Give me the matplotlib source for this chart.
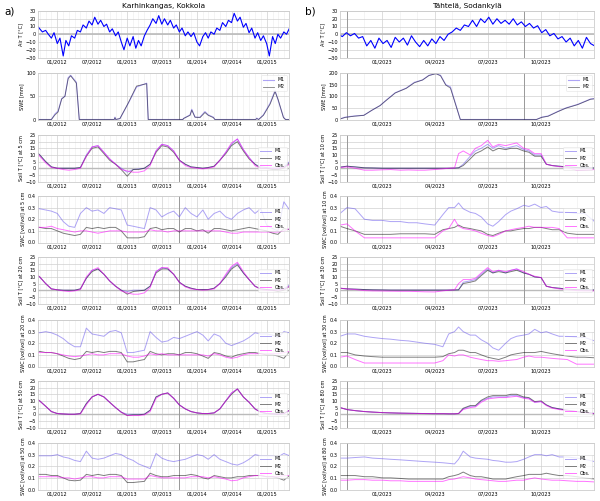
import numpy as np
import pandas as pd
import matplotlib
matplotlib.use("Agg")
import matplotlib.pyplot as plt
import matplotlib.dates as mdates

# ---------------- a) Karhinkangas, Kokkola ----------------
# air temperature, semi-monthly readings
air_a_dates = pd.date_range("2011-09-15", "2015-05-01", freq="SMS")
air_a = [12, 7, 3, 5, 0, -5, 2, -12, -5, -28, -8, -15, -2, -5, 5, 3, 12, 8, 17, 12, 22, 13,
         18, 10, 13, 3, 7, -2, 3, -10, -20, -5, -15, -3, -18, -8, -15, -2, 5, 12, 20, 14,
         24, 13, 20, 12, 18, 8, 12, 3, 8, -2, 3, -3, 2, -10, -15, -3, 2, -5, 3, 0, 8, 5,
         15, 10, 18, 15, 27, 17, 22, 9, 14, 2, 8, -5, 2, -8, -2, -12, -28, -3, -12, 0, -5,
         3, 0, 8]

swe_a_dates = pd.to_datetime([
    "2011-09-15", "2011-12-01", "2011-12-20", "2012-01-05", "2012-01-24", "2012-02-10",
    "2012-02-27", "2012-03-11", "2012-04-10", "2012-04-25", "2012-10-25", "2012-10-29",
    "2012-11-02", "2012-11-24", "2013-01-07", "2013-02-19", "2013-04-13", "2013-04-21",
    "2013-10-20", "2013-10-22", "2013-11-26", "2013-12-05", "2013-12-22", "2014-01-17",
    "2014-02-12", "2014-03-01", "2014-03-28", "2014-04-05", "2014-11-05", "2014-11-10",
    "2014-11-20", "2014-12-15", "2015-01-19", "2015-02-14", "2015-03-03", "2015-03-30",
    "2015-04-10", "2015-05-01"])
swe_a_m1 = [0, 0, 12, 18, 45, 50, 90, 95, 80, 0, 0, 5, 0, 2, 35, 70, 78, 0, 0, 2, 10, 22,
            5, 5, 17, 10, 5, 0, 0, 3, 0, 10, 35, 62, 40, 5, 0, 0]
swe_a_m2 = [0, 0, 10, 16, 44, 50, 88, 94, 78, 0, 0, 4, 0, 2, 36, 72, 77, 0, 0, 2, 9, 20,
            5, 4, 15, 9, 4, 0, 0, 2, 0, 9, 33, 60, 42, 4, 0, 0]

# soil data, first-of-month readings
soil_a_dates = pd.date_range("2011-09-01", "2015-05-01", freq="MS")
t5_a_m1 = [14, 10, 5, 1, 0, 0, 0, 0, 0.5, 10, 16, 17, 12, 7, 3, 0, -3, -1, -0.5, 0, 3, 13,
           18, 17, 13, 6, 3, 1, 0.5, 0, 0.5, 1.5, 6, 12, 18, 22, 14, 8, 3, 1, 0.5, 0, 0, 1, 5]
t5_a_m2 = [14, 10, 5, 1, 0, 0, 0, 0, 0.5, 9, 15, 16, 11, 6, 3, -1, -6, -1, -1, 0, 3, 12,
           17, 16, 12, 6, 3, 1, 0.5, 0, 0.5, 1.5, 6, 11, 17, 20, 13, 7, 3, 0, 0, -1, -1, 0, 4]
t5_a_obs = [14, 9, 4, 0.5, 0, -1, -1.5, -1, 0, 9, 16, 17, 12, 7, 3, -1, -2, -3, -3, -2, 2,
            13, 18, 17, 13, 6, 2, 0.5, 0, -0.5, 0, 1, 6, 12, 19, 22, 14, 8, 2, 0, 0, 0, 0,
            0.5, 3]
swc5_a_m1 = [0.30, 0.29, 0.28, 0.27, 0.25, 0.18, 0.14, 0.13, 0.25, 0.30, 0.27, 0.28, 0.25,
             0.30, 0.29, 0.28, 0.15, 0.14, 0.13, 0.12, 0.30, 0.28, 0.22, 0.25, 0.27, 0.22,
             0.30, 0.25, 0.22, 0.28, 0.20, 0.25, 0.27, 0.22, 0.20, 0.25, 0.28, 0.30, 0.25,
             0.29, 0.15, 0.12, 0.10, 0.35, 0.28]
swc5_a_m2 = [0.13, 0.13, 0.12, 0.12, 0.10, 0.08, 0.07, 0.06, 0.07, 0.13, 0.12, 0.13, 0.12,
             0.13, 0.13, 0.10, 0.04, 0.04, 0.04, 0.05, 0.12, 0.13, 0.11, 0.12, 0.12, 0.09,
             0.12, 0.12, 0.10, 0.11, 0.08, 0.12, 0.12, 0.11, 0.10, 0.11, 0.12, 0.13, 0.12,
             0.11, 0.10, 0.08, 0.07, 0.12, 0.11]
swc5_a_obs = [0.14, 0.13, 0.13, 0.14, 0.12, 0.11, 0.10, 0.09, 0.10, 0.10, 0.09, 0.08, 0.09,
              0.10, 0.10, 0.10, 0.09, 0.09, 0.09, 0.09, 0.11, 0.10, 0.10, 0.09, 0.10, 0.10,
              0.10, 0.10, 0.10, 0.10, 0.10, 0.10, 0.10, 0.09, 0.08, 0.08, 0.09, 0.09, 0.09,
              0.09, 0.09, 0.09, 0.09, 0.10, 0.12]
t20_a_m1 = [13, 10, 5, 1, 0.3, 0, 0, 0, 1, 9, 15, 16, 12, 7, 3, 0, -1, 0, 0, 0, 3, 14, 17,
            16, 12, 6, 3, 1.5, 0.5, 0.5, 0.5, 1.5, 5, 11, 17, 20, 13, 8, 3, 1, 0.5, 0.3,
            0.3, 1, 4]
t20_a_m2 = [13, 10, 5, 1, 0.3, 0, 0, 0, 1, 9, 14, 16, 12, 7, 3, 0, -3, -1, -0.5, 0, 3, 13,
            16, 16, 12, 6, 3, 1.5, 0.5, 0.5, 0.5, 1.5, 5, 10, 16, 19, 13, 8, 3, 1, 0.5, 0,
            -1, 0, 3]
t20_a_obs = [13, 10, 5, 1, 0.3, -0.5, -1, -0.5, 0.5, 10, 15, 17, 12, 7, 3, -0.5, -2, -3,
             -3, -2, 2, 14, 17, 17, 12, 6, 2.5, 1, 0.5, 0, 0.3, 1, 5, 12, 18, 21, 14, 8, 3,
             0.5, 0, 0, 0, 0.5, 3]
swc20_a_m1 = [0.30, 0.29, 0.30, 0.29, 0.27, 0.24, 0.20, 0.17, 0.17, 0.33, 0.28, 0.27, 0.26,
              0.30, 0.31, 0.29, 0.12, 0.12, 0.13, 0.14, 0.30, 0.25, 0.21, 0.22, 0.25, 0.24,
              0.26, 0.28, 0.30, 0.27, 0.22, 0.28, 0.26, 0.20, 0.18, 0.20, 0.22, 0.25, 0.29,
              0.28, 0.28, 0.27, 0.25, 0.30, 0.29]
swc20_a_m2 = [0.12, 0.13, 0.12, 0.12, 0.11, 0.09, 0.07, 0.06, 0.07, 0.13, 0.12, 0.13, 0.12,
              0.13, 0.13, 0.12, 0.04, 0.04, 0.05, 0.06, 0.13, 0.11, 0.10, 0.11, 0.11, 0.10,
              0.12, 0.12, 0.11, 0.09, 0.07, 0.12, 0.11, 0.09, 0.08, 0.10, 0.11, 0.12, 0.12,
              0.11, 0.10, 0.10, 0.09, 0.07, 0.13]
swc20_a_obs = [0.12, 0.12, 0.12, 0.12, 0.11, 0.10, 0.09, 0.085, 0.09, 0.10, 0.11, 0.10,
               0.10, 0.11, 0.11, 0.11, 0.09, 0.08, 0.08, 0.09, 0.11, 0.10, 0.11, 0.10, 0.10,
               0.10, 0.10, 0.10, 0.10, 0.10, 0.09, 0.11, 0.10, 0.08, 0.07, 0.08, 0.10, 0.11,
               0.11, 0.11, 0.11, 0.11, 0.11, 0.12, 0.13]
t50_a_m1 = [13, 10, 6, 2, 0.5, 0.2, 0, 0, 0.5, 8, 13, 15, 13, 9, 5, 1.5, 0, 0, 0, 0, 3, 13,
            15, 16, 12, 7, 4, 2, 1, 0.5, 0.5, 1, 4, 10, 16, 19, 13, 9, 4, 1.5, 0.5, 0.3, 0,
            0.5, 3]
t50_a_m2 = [13, 10, 6, 2, 0.5, 0.2, 0, 0, 0.5, 8, 13, 15, 13, 9, 5, 1.5, -1, -0.5, -0.5, 0,
            3, 13, 15, 16, 12, 7, 4, 2, 1, 0.5, 0.5, 1, 4, 10, 15, 19, 13, 9, 4, 1.5, 0.5,
            0.3, 0, 0.5, 3]
t50_a_obs = [13, 10, 6, 2, 0.5, 0.2, 0, 0, 0.3, 7, 13, 15, 13, 9, 5, 1.5, -1, -1, -1, -0.5,
             2, 12, 15, 16, 12, 7, 4, 2, 1, 0.5, 0.5, 1, 4, 10, 16, 19, 13, 9, 4, 1.5, 0.5,
             0.3, 0, 0.5, 3]
swc50_a_m1 = [0.29, 0.29, 0.29, 0.29, 0.30, 0.28, 0.27, 0.25, 0.24, 0.33, 0.27, 0.26, 0.27,
              0.29, 0.31, 0.30, 0.27, 0.25, 0.22, 0.20, 0.18, 0.31, 0.27, 0.25, 0.24, 0.25,
              0.26, 0.28, 0.30, 0.29, 0.26, 0.30, 0.26, 0.24, 0.22, 0.21, 0.23, 0.26, 0.30,
              0.29, 0.29, 0.29, 0.28, 0.31, 0.29]
swc50_a_m2 = [0.13, 0.13, 0.13, 0.12, 0.12, 0.10, 0.08, 0.075, 0.08, 0.13, 0.12, 0.13, 0.12,
              0.13, 0.13, 0.12, 0.06, 0.06, 0.065, 0.07, 0.14, 0.12, 0.11, 0.11, 0.12, 0.12,
              0.12, 0.13, 0.12, 0.10, 0.09, 0.12, 0.11, 0.10, 0.10, 0.11, 0.11, 0.12, 0.12,
              0.12, 0.11, 0.11, 0.10, 0.08, 0.12]
swc50_a_obs = [0.11, 0.11, 0.11, 0.11, 0.11, 0.10, 0.10, 0.09, 0.10, 0.11, 0.11, 0.10, 0.10,
               0.11, 0.11, 0.11, 0.09, 0.09, 0.09, 0.09, 0.12, 0.11, 0.10, 0.10, 0.10, 0.10,
               0.10, 0.11, 0.11, 0.11, 0.10, 0.11, 0.10, 0.09, 0.075, 0.08, 0.10, 0.11, 0.12,
               0.12, 0.11, 0.11, 0.11, 0.12, 0.12]

# ---------------- b) Tähtelä, Sodankylä ----------------
air_b_dates = pd.date_range("2022-10-17", "2024-01-01", freq="7D")
air_b = [0, -3, 2, -2, 1, -5, -3, -15, -8, -18, -5, -12, -8, -17, -4, -10, -5, -14, -2, -10,
         -16, -8, -15, -6, -12, -3, -8, 0, 3, 8, 5, 12, 10, 18, 10, 20, 15, 22, 13, 20, 14,
         18, 13, 20, 12, 16, 10, 14, 8, 11, 2, 6, -2, 1, -6, -3, -10, -5, -15, -8, -18, -4,
         -12, -15]

swe_b_dates = pd.to_datetime([
    "2022-10-17", "2022-10-29", "2022-11-13", "2022-11-30", "2022-12-14", "2022-12-28",
    "2023-01-06", "2023-01-23", "2023-02-11", "2023-02-25", "2023-03-11", "2023-03-22",
    "2023-04-03", "2023-04-11", "2023-04-20", "2023-04-28", "2023-05-15", "2023-09-23",
    "2023-10-02", "2023-10-13", "2023-10-30", "2023-11-13", "2023-12-03", "2023-12-25",
    "2024-01-01"])
swe_b_m1 = [0, 10, 15, 18, 40, 60, 80, 115, 135, 160, 170, 190, 198, 190, 150, 140, 0, 0,
            10, 15, 35, 50, 65, 88, 90]
swe_b_m2 = [0, 9, 14, 18, 40, 60, 79, 114, 134, 158, 170, 189, 197, 188, 148, 135, 0, 0,
            9, 14, 34, 49, 64, 87, 89]

soil_b_dates = pd.to_datetime([
    "2022-10-20", "2022-11-01", "2022-11-15", "2022-12-01", "2022-12-15", "2023-01-01",
    "2023-01-15", "2023-02-01", "2023-02-15", "2023-03-01", "2023-03-15", "2023-04-01",
    "2023-04-15", "2023-04-25", "2023-05-05", "2023-05-12", "2023-05-20", "2023-06-01",
    "2023-06-10", "2023-06-20", "2023-07-01", "2023-07-10", "2023-07-20", "2023-08-01",
    "2023-08-10", "2023-08-20", "2023-09-01", "2023-09-10", "2023-09-20", "2023-10-01",
    "2023-10-10", "2023-10-20", "2023-11-01", "2023-11-15", "2023-12-01", "2023-12-15",
    "2024-01-01"])
t10_b_m1 = [0.8, 1.5, 1, 0.3, 0.2, 0, 0, 0, 0, 0, 0, 0, 0, 0, 0.1, 0.3, 3, 9, 13, 15, 18,
            15, 17, 15, 16, 17, 14, 13, 10, 10, 3, 2, 1.5, 1, 0.5, 0.3, 0.2]
t10_b_m2 = [0.8, 1.5, 1, 0.3, 0.2, 0, 0, 0, 0, 0, 0, 0, 0, 0, 0.1, 0.3, 2, 7, 11, 13, 16,
            13, 15, 14, 15, 15, 13, 12, 9, 9, 3, 2, 1.5, 1, 0.5, 0.3, 0.2]
t10_b_obs = [0.5, 1, 0, -1.5, -1.5, -1.2, -1, -1.5, -1.3, -1.5, -1.5, -1, -0.5, 0, 0.2, 11,
             13, 10, 15, 17, 21, 16, 18, 17, 18, 19, 15, 14, 11, 11, 3, 2, 1.2, 0.5, -1.5,
             -1.3, -1]
swc10_b_m1 = [0.25, 0.30, 0.29, 0.20, 0.19, 0.19, 0.18, 0.18, 0.17, 0.17, 0.16, 0.15, 0.24,
              0.30, 0.30, 0.34, 0.29, 0.26, 0.25, 0.22, 0.16, 0.14, 0.18, 0.24, 0.27, 0.29,
              0.32, 0.31, 0.33, 0.30, 0.31, 0.27, 0.26, 0.26, 0.25, 0.25, 0.18]
swc10_b_m2 = [0.14, 0.12, 0.10, 0.07, 0.07, 0.07, 0.07, 0.075, 0.075, 0.075, 0.075, 0.07,
              0.11, 0.12, 0.13, 0.15, 0.13, 0.12, 0.11, 0.10, 0.07, 0.06, 0.08, 0.10, 0.10,
              0.11, 0.12, 0.12, 0.13, 0.13, 0.12, 0.11, 0.11, 0.08, 0.07, 0.07, 0.07]
swc10_b_obs = [0.15, 0.16, 0.10, 0.04, 0.04, 0.04, 0.04, 0.04, 0.04, 0.04, 0.04, 0.04,
               0.10, 0.12, 0.20, 0.14, 0.12, 0.11, 0.10, 0.08, 0.06, 0.05, 0.07, 0.10, 0.11,
               0.12, 0.13, 0.14, 0.13, 0.13, 0.13, 0.13, 0.12, 0.04, 0.04, 0.04, 0.04]
t30_b_m1 = [1.5, 1, 0.8, 0.5, 0.3, 0.2, 0.1, 0.1, 0.1, 0.1, 0.1, 0.1, 0.1, 0.1, 0.2, 0.3, 6,
            7, 8, 12, 16, 13, 15, 13, 15, 16, 13, 12, 10, 9.5, 3, 2, 1.5, 0.8, 0.4, 0.3, 0.2]
t30_b_m2 = [1.5, 1, 0.8, 0.5, 0.3, 0.2, 0.1, 0.1, 0.1, 0.1, 0.1, 0.1, 0.1, 0.1, 0.2, 0.3, 5,
            6, 7, 11, 15, 13, 14, 13, 14, 15, 13, 12, 10, 9.5, 3, 2, 1.5, 0.8, 0.4, 0.3, 0.2]
t30_b_obs = [1.5, 1, 0.5, -0.3, -0.5, -0.6, -0.7, -0.8, -0.8, -1, -1.2, -1.3, -0.5, 0, 0.3,
             5, 8, 8, 9, 13, 17, 14, 15, 14, 15, 16, 14, 12, 10.5, 9.5, 3, 2, 1, 0.5, -0.3,
             -0.5, -0.5]
swc30_b_m1 = [0.26, 0.28, 0.28, 0.26, 0.25, 0.24, 0.235, 0.225, 0.22, 0.21, 0.20, 0.19,
              0.17, 0.28, 0.30, 0.34, 0.30, 0.27, 0.27, 0.23, 0.20, 0.16, 0.14, 0.20, 0.24,
              0.26, 0.27, 0.28, 0.32, 0.29, 0.30, 0.28, 0.26, 0.26, 0.25, 0.25, 0.22]
swc30_b_m2 = [0.12, 0.12, 0.10, 0.09, 0.085, 0.08, 0.08, 0.08, 0.08, 0.08, 0.08, 0.08,
              0.085, 0.11, 0.12, 0.14, 0.14, 0.12, 0.12, 0.10, 0.08, 0.07, 0.06, 0.08, 0.10,
              0.11, 0.12, 0.12, 0.12, 0.13, 0.12, 0.11, 0.10, 0.09, 0.08, 0.08, 0.075]
swc30_b_obs = [0.08, 0.09, 0.06, 0.03, 0.03, 0.03, 0.03, 0.03, 0.03, 0.03, 0.03, 0.03,
               0.05, 0.10, 0.09, 0.10, 0.10, 0.08, 0.07, 0.06, 0.05, 0.05, 0.045, 0.05,
               0.055, 0.06, 0.08, 0.09, 0.08, 0.08, 0.075, 0.07, 0.065, 0.06, 0.02, 0.02,
               0.02]
t80_b_m1 = [5, 3.5, 2.7, 2.0, 1.6, 1.2, 1.0, 0.8, 0.7, 0.6, 0.5, 0.4, 0.4, 0.3, 0.3, 0.5, 4,
            6, 6, 10, 12, 13, 13, 13, 14, 14, 12.5, 12, 9, 9.5, 7, 5, 4, 3, 2, 1.5, 0.5]
t80_b_m2 = [5, 3.5, 2.7, 2.0, 1.6, 1.2, 1.0, 0.8, 0.7, 0.6, 0.5, 0.4, 0.4, 0.3, 0.3, 0.5,
            4.5, 6.5, 6.5, 10.5, 13, 14, 14, 14, 15, 15, 13, 12.5, 9.5, 10, 7, 5, 4, 3, 2,
            1.5, 0.5]
t80_b_obs = [5, 3.5, 2.7, 2.0, 1.6, 1.2, 1.0, 0.8, 0.7, 0.6, 0.5, 0.4, 0.4, 0.3, 0.3, 0.5,
             3.5, 5, 5.5, 9, 11.5, 12, 12.5, 12.5, 13, 13.5, 12, 11.5, 9, 9.5, 6.5, 4.5, 3.5,
             2.8, 2, 1.3, 0.5]
swc80_b_m1 = [0.27, 0.27, 0.275, 0.28, 0.27, 0.265, 0.26, 0.255, 0.25, 0.245, 0.24, 0.235,
              0.23, 0.225, 0.22, 0.26, 0.33, 0.28, 0.27, 0.265, 0.26, 0.25, 0.245, 0.235,
              0.235, 0.24, 0.26, 0.28, 0.30, 0.30, 0.29, 0.30, 0.28, 0.28, 0.27, 0.26, 0.24]
swc80_b_m2 = [0.12, 0.12, 0.12, 0.11, 0.11, 0.10, 0.10, 0.095, 0.09, 0.09, 0.09, 0.09, 0.09,
              0.11, 0.12, 0.13, 0.15, 0.12, 0.11, 0.11, 0.10, 0.09, 0.09, 0.09, 0.10, 0.11,
              0.12, 0.13, 0.13, 0.13, 0.14, 0.13, 0.12, 0.12, 0.11, 0.10, 0.09]
swc80_b_obs = [0.08, 0.08, 0.085, 0.085, 0.08, 0.08, 0.075, 0.075, 0.07, 0.07, 0.07, 0.07,
               0.07, 0.085, 0.09, 0.10, 0.11, 0.10, 0.09, 0.085, 0.08, 0.075, 0.07, 0.07,
               0.075, 0.08, 0.08, 0.09, 0.10, 0.09, 0.085, 0.08, 0.08, 0.075, 0.07, 0.07,
               0.065]

depths_a = ["5", "20", "50"]
depths_b = ["10", "30", "80"]
vlines_a = ["2013-10-01"]
vlines_b = ["2022-11-01", "2023-09-01"]

C_M1 = (0.42, 0.35, 0.93, 0.55)
C_M2 = (0.0, 0.0, 0.0, 0.5)
C_OBS = (1.0, 0.0, 1.0, 0.55)
FS = 3.6

fig = plt.figure(figsize=(6, 5.01), dpi=100)
W, H = 600, 501
row_tops = [11, 73, 135, 196, 257, 320, 381, 443]
ph = 46.5
cols = [(38, 289), (340, 594)]


def style(ax, xlim, col, ylim, yticks, ylabel):
    ax.set_xlim(pd.Timestamp(xlim[0]), pd.Timestamp(xlim[1]))
    ax.set_ylim(*ylim)
    ax.set_yticks(yticks)
    ax.set_ylabel(ylabel, fontsize=FS, labelpad=1.5)
    if col == 0:
        ax.xaxis.set_major_locator(mdates.MonthLocator(bymonth=[1, 7]))
    else:
        ax.xaxis.set_major_locator(mdates.MonthLocator(bymonth=[1, 4, 7, 10]))
    ax.xaxis.set_minor_locator(mdates.MonthLocator())
    ax.xaxis.set_major_formatter(mdates.DateFormatter("%m/%Y"))
    ax.tick_params(labelsize=FS, length=0, pad=1.5)
    ax.tick_params(which="minor", length=0)
    ax.grid(True, which="major", color="#d0d0d0", lw=0.5)
    ax.grid(True, which="minor", color="#ececec", lw=0.4)
    ax.set_axisbelow(True)
    for s in ax.spines.values():
        s.set_color("#cccccc")
        s.set_linewidth(0.6)
    for d in (vlines_a if col == 0 else vlines_b):
        ax.axvline(pd.Timestamp(d), color="#999999", lw=0.7, zorder=1)


def leg(ax, loc):
    lg = ax.legend(loc=loc, fontsize=3.3, frameon=True, handlelength=2.4,
                   borderpad=0.4, labelspacing=0.5)
    lg.get_frame().set_edgecolor("#dddddd")
    lg.get_frame().set_linewidth(0.4)


def new_ax(row, col):
    x0, x1 = cols[col]
    top = row_tops[row]
    return fig.add_axes([x0 / W, 1 - (top + ph) / H, (x1 - x0) / W, ph / H])


site_data = [
    dict(xlim=("2011-09-22", "2015-04-28"), air=(air_a_dates, air_a),
         swe=(swe_a_dates, swe_a_m1, swe_a_m2), swe_lim=(0, 100), swe_ticks=[0, 50, 100],
         sdates=soil_a_dates, depths=depths_a,
         t=[(t5_a_m1, t5_a_m2, t5_a_obs), (t20_a_m1, t20_a_m2, t20_a_obs),
            (t50_a_m1, t50_a_m2, t50_a_obs)],
         w=[(swc5_a_m1, swc5_a_m2, swc5_a_obs), (swc20_a_m1, swc20_a_m2, swc20_a_obs),
            (swc50_a_m1, swc50_a_m2, swc50_a_obs)]),
    dict(xlim=("2022-10-20", "2023-12-31"), air=(air_b_dates, air_b),
         swe=(swe_b_dates, swe_b_m1, swe_b_m2), swe_lim=(0, 200),
         swe_ticks=[0, 50, 100, 150, 200],
         sdates=soil_b_dates, depths=depths_b,
         t=[(t10_b_m1, t10_b_m2, t10_b_obs), (t30_b_m1, t30_b_m2, t30_b_obs),
            (t80_b_m1, t80_b_m2, t80_b_obs)],
         w=[(swc10_b_m1, swc10_b_m2, swc10_b_obs), (swc30_b_m1, swc30_b_m2, swc30_b_obs),
            (swc80_b_m1, swc80_b_m2, swc80_b_obs)]),
]

for col, d in enumerate(site_data):
    # air temperature
    ax = new_ax(0, col)
    ax.axhline(0, color="#bbbbbb", lw=1.2, zorder=1)
    ax.plot(d["air"][0], d["air"][1], color="blue", lw=0.8)
    style(ax, d["xlim"], col, (-30, 30), np.arange(-30, 31, 10), "Air T [°C]")

    # snow water equivalent
    ax = new_ax(1, col)
    ax.plot(d["swe"][0], d["swe"][1], color=C_M1, lw=0.8, label="M1")
    ax.plot(d["swe"][0], d["swe"][2], color=C_M2, lw=0.6, label="M2")
    style(ax, d["xlim"], col, d["swe_lim"], d["swe_ticks"], "SWE [mm]")
    leg(ax, "upper right")

    for k, dep in enumerate(d["depths"]):
        m1, m2, ob = d["t"][k]
        ax = new_ax(2 + 2 * k, col)
        ax.axhline(0, color="#bbbbbb", lw=1.0, zorder=1)
        ax.plot(d["sdates"], m1, color=C_M1, lw=0.7, label="M1")
        ax.plot(d["sdates"], m2, color=C_M2, lw=0.7, label="M2")
        ax.plot(d["sdates"], ob, color=C_OBS, lw=0.7, label="Obs.")
        style(ax, d["xlim"], col, (-10, 25), np.arange(-10, 26, 5),
              f"Soil T [°C] at {dep} cm")
        leg(ax, "center right")

        m1, m2, ob = d["w"][k]
        ax = new_ax(3 + 2 * k, col)
        ax.plot(d["sdates"], m1, color=C_M1, lw=0.7, label="M1")
        ax.plot(d["sdates"], m2, color=C_M2, lw=0.7, label="M2")
        ax.plot(d["sdates"], ob, color=C_OBS, lw=0.7, label="Obs.")
        style(ax, d["xlim"], col, (0, 0.4), np.arange(0, 0.41, 0.1),
              f"SWC [vol/vol] at {dep} cm")
        ax.yaxis.set_major_formatter(matplotlib.ticker.FormatStrFormatter("%.1f"))
        leg(ax, "center right")

fig.text((38 + 289) / 2 / W, 1 - 6 / H, "Karhinkangas, Kokkola", ha="center", va="center",
         fontsize=5.3)
fig.text((340 + 594) / 2 / W, 1 - 6 / H, "Tähtelä, Sodankylä", ha="center", va="center",
         fontsize=5.3)
fig.text(4 / W, 1 - 12 / H, "a)", fontsize=7.5, va="center")
fig.text(305 / W, 1 - 12 / H, "b)", fontsize=7.5, va="center")

fig.savefig("out.png", dpi=100)
